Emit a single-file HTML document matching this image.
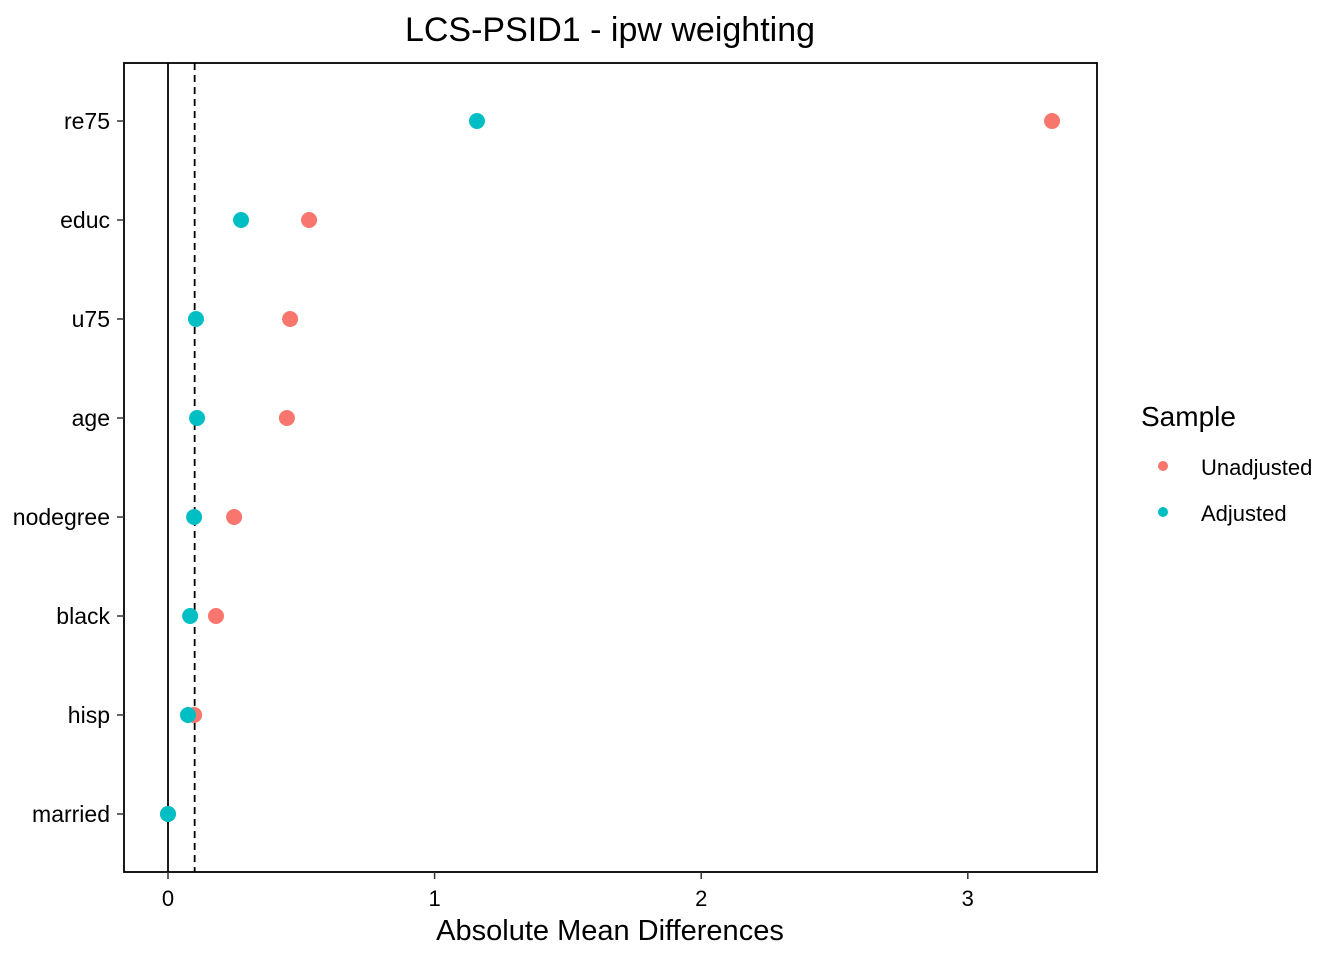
<!DOCTYPE html>
<html><head><meta charset="utf-8"><style>
html,body{margin:0;padding:0;background:#fff;}
svg{display:block;font-family:"Liberation Sans",Arial,sans-serif;}
</style></head><body>
<svg id="chart" width="1344" height="960" viewBox="0 0 1344 960">
<text x="610" y="41" font-size="34" text-anchor="middle">LCS-PSID1 - ipw weighting</text>
<rect x="124" y="63" width="973" height="809" fill="none" stroke="#000" stroke-width="1.8"/>
<g id="xaxis"></g>
<g id="yaxis"></g>
<g id="refs"></g>
<g id="marks"></g>
<text x="610" y="940" font-size="29" text-anchor="middle">Absolute Mean Differences</text>
<g>
<text x="1141" y="426" font-size="28">Sample</text>
<circle cx="1163" cy="466" r="5" fill="#F8766D"/>
<text x="1201" y="475" font-size="22">Unadjusted</text>
<circle cx="1163" cy="512" r="5" fill="#00BFC4"/>
<text x="1201" y="521" font-size="22">Adjusted</text>
</g>
</svg>
<script>
const categories = ["re75","educ","u75","age","nodegree","black","hisp","married"];
const unadjusted = [3.316,0.529,0.458,0.446,0.248,0.180,0.098,0.0];
const adjusted = [1.159,0.274,0.105,0.109,0.098,0.083,0.075,0.0];
const xTicks = [0,1,2,3];
const threshold = 0.1;

const NS="http://www.w3.org/2000/svg";
const x = v => 168 + v*266.6;
const y = i => 121 + i*99;
function mk(tag, attrs, parent){const e=document.createElementNS(NS,tag);for(const k in attrs)e.setAttribute(k,attrs[k]);parent.appendChild(e);return e;}
const xa=document.getElementById('xaxis'), ya=document.getElementById('yaxis'), refs=document.getElementById('refs'), marks=document.getElementById('marks');

xTicks.forEach(t=>{
  const l=mk('line',{x1:x(t),x2:x(t),y1:872,y2:879,stroke:'#333','stroke-width':1.5},xa);
  
  
  const tx=mk('text',{x:x(t),y:906,'font-size':22,'text-anchor':'middle',fill:'#000'},xa);
  tx.textContent=t;
  
  
});
categories.forEach((c,i)=>{
  const l=mk('line',{x1:117,x2:124,y1:y(i),y2:y(i),stroke:'#333','stroke-width':1.5},ya);
  
  
  const tx=mk('text',{x:110,y:y(i)+8,'font-size':23,'text-anchor':'end',fill:'#000'},ya);
  tx.textContent=c;
  
  
});
const zl=mk('line',{x1:x(0),x2:x(0),y1:63,y2:872,stroke:'#000','stroke-width':1.8},refs);


const tl=mk('line',{x1:x(threshold),x2:x(threshold),y1:63,y2:872,stroke:'#000','stroke-width':1.8,'stroke-dasharray':'7,5'},refs);



categories.forEach((c,i)=>{
  const p=mk('circle',{cx:x(unadjusted[i]),cy:y(i),r:8,fill:'#F8766D'},marks);
  
  
});
categories.forEach((c,i)=>{
  const p=mk('circle',{cx:x(adjusted[i]),cy:y(i),r:8,fill:'#00BFC4'},marks);
  
  
});
</script>
</body></html>
